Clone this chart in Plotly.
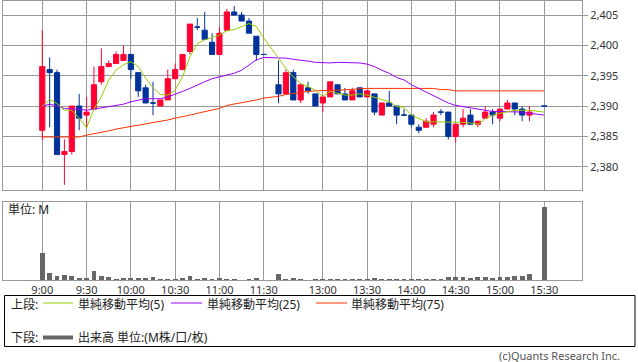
import plotly.graph_objects as go

# ---------------- data ----------------
times = ["9:00", "9:05", "9:10", "9:15", "9:20", "9:25", "9:30", "9:35", "9:40", "9:45",
         "9:50", "9:55", "10:00", "10:05", "10:10", "10:15", "10:20", "10:25", "10:30", "10:35",
         "10:40", "10:45", "10:50", "10:55", "11:00", "11:05", "11:10", "11:15", "11:20", "11:25",
         "11:30",
         "12:30", "12:35", "12:40", "12:45", "12:50", "12:55", "13:00", "13:05", "13:10", "13:15",
         "13:20", "13:25", "13:30", "13:35", "13:40", "13:45", "13:50", "13:55", "14:00", "14:05",
         "14:10", "14:15", "14:20", "14:25", "14:30", "14:35", "14:40", "14:45", "14:50", "14:55",
         "15:00", "15:05", "15:10", "15:15", "15:20", "15:30"]

open_ = [2386, 2396, 2395.5, 2382, 2382.5, 2390, 2388.5, 2389.5, 2394, 2396.5,
         2397, 2397.5, 2398.5, 2395.5, 2393, 2390.5, 2390, 2391, 2394.5, 2396,
         2399, 2403, 2402.5, 2400.5, 2398.5, 2402.5, 2405.5, 2405, 2404, 2401.5,
         2398.5,
         2393.5, 2392, 2395.5, 2391, 2393, 2392, 2390.5, 2391.5, 2393.5, 2392,
         2391, 2393, 2391.5, 2392, 2388.5, 2390.5, 2390, 2388.5, 2388.5, 2386.5,
         2386.5, 2387, 2389, 2389, 2385, 2387, 2388.5, 2387, 2388, 2389,
         2388, 2389.5, 2390.5, 2389.5, 2388.5, 2390]
high = [2402.5, 2398, 2396, 2384.5, 2390, 2392, 2391.5, 2396.5, 2399.5, 2397.5,
        2399, 2400, 2398.5, 2395.5, 2393.5, 2394, 2391, 2396, 2397, 2398.5,
        2403.5, 2404.5, 2405.5, 2402, 2403, 2406, 2406.5, 2405.5, 2404.5, 2401.5,
        2398.5,
        2397.5, 2396, 2396, 2393.5, 2394, 2392, 2391.5, 2394, 2393.5, 2393,
        2393, 2393, 2392.5, 2392, 2390.5, 2392.5, 2390, 2389.5, 2388.5, 2387,
        2388, 2389, 2389.5, 2389, 2387, 2389.5, 2389.5, 2387.5, 2390, 2389.5,
        2389.5, 2391, 2390.5, 2390, 2390, 2390]
low = [2384.5, 2386.5, 2382, 2377, 2382, 2386, 2386.5, 2389.5, 2393.5, 2396.5,
       2397, 2397.5, 2394.5, 2391.5, 2390.5, 2388.5, 2390, 2391, 2394.5, 2396,
       2398.5, 2402.5, 2401, 2398.5, 2398.5, 2402.5, 2405, 2404, 2402, 2397.5,
       2398.5,
       2390.5, 2392, 2391, 2390.5, 2392, 2390, 2389, 2391.5, 2392, 2391,
       2391, 2391.5, 2391.5, 2388.5, 2388.5, 2390, 2387, 2388.5, 2386.5, 2385.5,
       2386.5, 2386.5, 2388.5, 2384.5, 2384, 2386.5, 2387, 2386.5, 2388, 2387,
       2387.5, 2389.5, 2388.5, 2387.5, 2387.5, 2390]
close = [2396.5, 2395.5, 2382, 2382.5, 2390, 2388, 2389, 2393.5, 2396.5, 2397,
         2398.5, 2398.5, 2396, 2392.5, 2390.5, 2390.5, 2391, 2394.5, 2396, 2398.5,
         2403.5, 2403, 2401, 2398.5, 2402, 2405.5, 2405, 2404, 2402, 2398.5,
         2398.5,
         2392, 2395.5, 2391, 2393.5, 2392.5, 2390, 2391.5, 2394, 2392, 2391,
         2392.5, 2391.5, 2392.5, 2389, 2390.5, 2390, 2388.5, 2388.5, 2387, 2386,
         2387.5, 2388.5, 2389, 2385, 2387, 2388, 2387, 2387.5, 2389, 2388.5,
         2389.5, 2390.5, 2389.5, 2388.5, 2389, 2390]

ma5 = [2390.0, 2391.1, 2390.4, 2389.3, 2389.3, 2388.0, 2386.4, 2389.5, 2391.5, 2394.3,
       2395.9, 2396.8, 2397.3, 2396.5, 2394.6, 2393.0, 2391.9, 2391.8, 2392.6, 2394.8,
       2398.1, 2400.3, 2400.9, 2401.3, 2401.7, 2402.4, 2402.6, 2403.1, 2403.6, 2403.1,
       2401.2,
       2397.9, 2396.2, 2394.8, 2393.7, 2393.2, 2392.6, 2391.6, 2392.4, 2392.1, 2391.8,
       2391.8, 2392.0, 2391.8, 2391.4, 2391.1, 2390.7, 2389.9, 2389.8, 2388.5, 2387.9,
       2387.4, 2387.4, 2387.4, 2387.3, 2387.3, 2387.3, 2387.2, 2387.0, 2387.9, 2388.5,
       2388.8, 2389.0, 2389.3, 2389.3, 2389.3, 2389.0]
ma25 = [2390.0, 2390.3, 2390.0, 2389.6, 2389.5, 2389.5, 2389.3, 2389.5, 2389.6, 2389.8,
        2390.0, 2390.3, 2390.7, 2391.0, 2391.2, 2391.2, 2391.2, 2391.5, 2391.9, 2392.4,
        2392.9, 2393.5, 2394.0, 2394.5, 2394.8, 2395.1, 2395.4, 2395.9, 2396.8, 2397.6,
        2398.0,
        2398.0, 2397.9, 2397.7, 2397.6, 2397.4, 2397.2, 2397.1, 2397.1, 2397.2, 2397.2,
        2397.2, 2397.1, 2396.9, 2396.5, 2395.9, 2395.4, 2394.7, 2394.3, 2393.5, 2392.9,
        2392.4, 2391.8, 2391.2, 2390.5, 2390.1, 2389.9, 2389.6, 2389.5, 2389.2, 2389.1,
        2389.1, 2389.1, 2389.1, 2389.0, 2388.8, 2388.5]
ma75 = [2384.9, 2384.9, 2384.9, 2384.9, 2384.9, 2384.9, 2385.2, 2385.4, 2385.6, 2385.9,
        2386.2, 2386.4, 2386.6, 2386.8, 2387.0, 2387.3, 2387.4, 2387.7, 2388.0, 2388.2,
        2388.5, 2388.8, 2389.1, 2389.3, 2389.6, 2390.1, 2390.3, 2390.5, 2390.8, 2391.0,
        2391.3,
        2391.6, 2391.9, 2392.1, 2392.3, 2392.4, 2392.5, 2392.6, 2392.6, 2392.6, 2392.7,
        2392.8, 2392.9, 2392.9, 2392.9, 2392.9, 2392.9, 2392.9, 2392.9, 2392.9, 2392.9,
        2392.9, 2392.9, 2392.7, 2392.7, 2392.5, 2392.5, 2392.5, 2392.5, 2392.5, 2392.5,
        2392.5, 2392.5, 2392.5, 2392.5, 2392.5, 2392.5]

volume = [0.277, 0.07, 0.04, 0.05, 0.043, 0.023, 0.023, 0.09, 0.043, 0.03,
          0.01, 0.02, 0.02, 0.02, 0.02, 0.03, 0.01, 0.01, 0.01, 0.02,
          0.04, 0.01, 0.02, 0.01, 0.02, 0.01, 0.01, 0.003, 0.01, 0.02,
          0.003,
          0.06, 0.01, 0.02, 0.01, 0.003, 0.01, 0.01, 0.01, 0.005, 0.01,
          0.01, 0.005, 0.005, 0.023, 0.01, 0.01, 0.01, 0.01, 0.01, 0.01,
          0.01, 0.01, 0.005, 0.03, 0.03, 0.03, 0.02, 0.03, 0.03, 0.02,
          0.03, 0.03, 0.04, 0.04, 0.06, 0.73]

tick_times = ["9:00", "9:30", "10:00", "10:30", "11:00", "11:30",
              "13:00", "13:30", "14:00", "14:30", "15:00", "15:30"]

legend_labels = ["単純移動平均(5)", "単純移動平均(25)", "単純移動平均(75)"]
volume_label = "出来高 単位:(M株/口/枚)"

# ---------------- layout helpers ----------------
W, H = 638, 362


def slot(t):
    h, m = map(int, t.split(":"))
    mins = h * 60 + m
    if mins <= 11 * 60 + 30:
        return (mins - 540) / 5
    return (mins - 750) / 5 + 32


def px(x):
    return x / W


def py(y):
    return (H - y) / H


xs = [slot(t) for t in times]
tickvals = [slot(t) for t in tick_times]

RED = "#ff0033"
BLUE = "#003399"
C5, C25, C75 = "#99cc00", "#9900ff", "#ff3300"
GRID = "#999999"
TXT = "#333333"
FONT = "Noto Sans, Noto Sans CJK JP, sans-serif"

fig = go.Figure()

up = [i for i in range(len(xs)) if close[i] > open_[i]]
dn = [i for i in range(len(xs)) if close[i] <= open_[i]]
for idx, col in ((up, RED), (dn, BLUE)):
    fig.add_trace(go.Candlestick(
        x=[xs[i] for i in idx], open=[open_[i] for i in idx], high=[high[i] for i in idx],
        low=[low[i] for i in idx], close=[close[i] for i in idx],
        increasing=dict(line=dict(color=col, width=1), fillcolor=col),
        decreasing=dict(line=dict(color=col, width=1), fillcolor=col),
        whiskerwidth=0, hoverinfo="skip", xaxis="x", yaxis="y"))

for vals, col in ((ma75, C75), (ma25, C25), (ma5, C5)):
    fig.add_trace(go.Scatter(x=xs, y=vals, mode="lines", line=dict(color=col, width=1),
                             hoverinfo="skip", xaxis="x", yaxis="y"))

fig.add_trace(go.Bar(x=xs, y=volume, width=0.65, marker=dict(color="#666666", line=dict(width=0)),
                     hoverinfo="skip", xaxis="x2", yaxis="y2"))

xdom = [px(3), px(582)]
xr = [-5.32, 73.11]
common_x = dict(domain=xdom, range=xr, tickmode="array", tickvals=tickvals,
                showgrid=True, gridcolor=GRID, gridwidth=1, showline=True, mirror=True,
                linecolor=GRID, linewidth=1, zeroline=False, fixedrange=True)

LF = dict(size=12, color="#222222", family=FONT)
ROW1, ROW2 = 304, 337.5
annotations = [
    dict(text="単位: M", x=px(7), y=py(209.5), xanchor="left", yanchor="middle", font=LF),
    dict(text="上段:", x=px(10), y=py(ROW1), xanchor="left", yanchor="middle", font=LF),
    dict(text=legend_labels[0], x=px(77), y=py(ROW1), xanchor="left", yanchor="middle", font=LF),
    dict(text=legend_labels[1], x=px(206), y=py(ROW1), xanchor="left", yanchor="middle", font=LF),
    dict(text=legend_labels[2], x=px(350), y=py(ROW1), xanchor="left", yanchor="middle", font=LF),
    dict(text="下段:", x=px(10), y=py(ROW2), xanchor="left", yanchor="middle", font=LF),
    dict(text=volume_label, x=px(77), y=py(ROW2), xanchor="left", yanchor="middle", font=LF),
    dict(text="(c)Quants Research Inc.", x=px(621), y=py(355.5), xanchor="right", yanchor="middle",
         font=dict(size=11, color="#555555", family=FONT)),
]
for a in annotations:
    a.update(xref="paper", yref="paper", showarrow=False, borderpad=0)

shapes = [
    dict(type="rect", x0=px(4.5), x1=px(635), y0=py(346.5), y1=py(295.5),
         line=dict(color="#000000", width=1), fillcolor="rgba(0,0,0,0)"),
    dict(type="line", x0=px(43), x1=px(73), y0=py(303), y1=py(303), line=dict(color=C5, width=1)),
    dict(type="line", x0=px(171), x1=px(202), y0=py(303), y1=py(303), line=dict(color=C25, width=1)),
    dict(type="line", x0=px(316), x1=px(347), y0=py(303), y1=py(303), line=dict(color=C75, width=1)),
    dict(type="line", x0=px(43), x1=px(73), y0=py(337.5), y1=py(337.5), line=dict(color="#666666", width=4)),
]
for s in shapes:
    s.update(xref="paper", yref="paper")

fig.update_layout(
    width=W, height=H, margin=dict(l=0, r=0, t=0, b=0),
    paper_bgcolor="white", plot_bgcolor="white", showlegend=False,
    boxgap=0.3, boxgroupgap=0, bargap=0,
    font=dict(family=FONT, size=11, color=TXT),
    xaxis=dict(**common_x, anchor="y", showticklabels=False, rangeslider=dict(visible=False)),
    yaxis=dict(domain=[py(190), py(0.5)], range=[2376.16, 2407.39], side="right",
               tick0=2380, dtick=5, tickformat=",", ticks="outside", ticklen=5, tickcolor=GRID,
               showgrid=True, gridcolor=GRID, gridwidth=1, showline=True, mirror=True,
               linecolor=GRID, linewidth=1, zeroline=False, anchor="x", fixedrange=True,
               tickfont=dict(size=11, color=TXT, family=FONT)),
    xaxis2=dict(**common_x, anchor="y2", ticktext=tick_times, showticklabels=True,
                tickfont=dict(size=11, color=TXT, family=FONT)),
    yaxis2=dict(domain=[py(280), py(201.7)], range=[0, 0.783], showticklabels=False,
                showgrid=False, showline=True, mirror=True, linecolor=GRID, linewidth=1,
                zeroline=False, anchor="x2", fixedrange=True),
    annotations=annotations, shapes=shapes,
)

fig.write_html("out.html", config={"displayModeBar": False},
               post_script="document.body.style.margin='0px';")
